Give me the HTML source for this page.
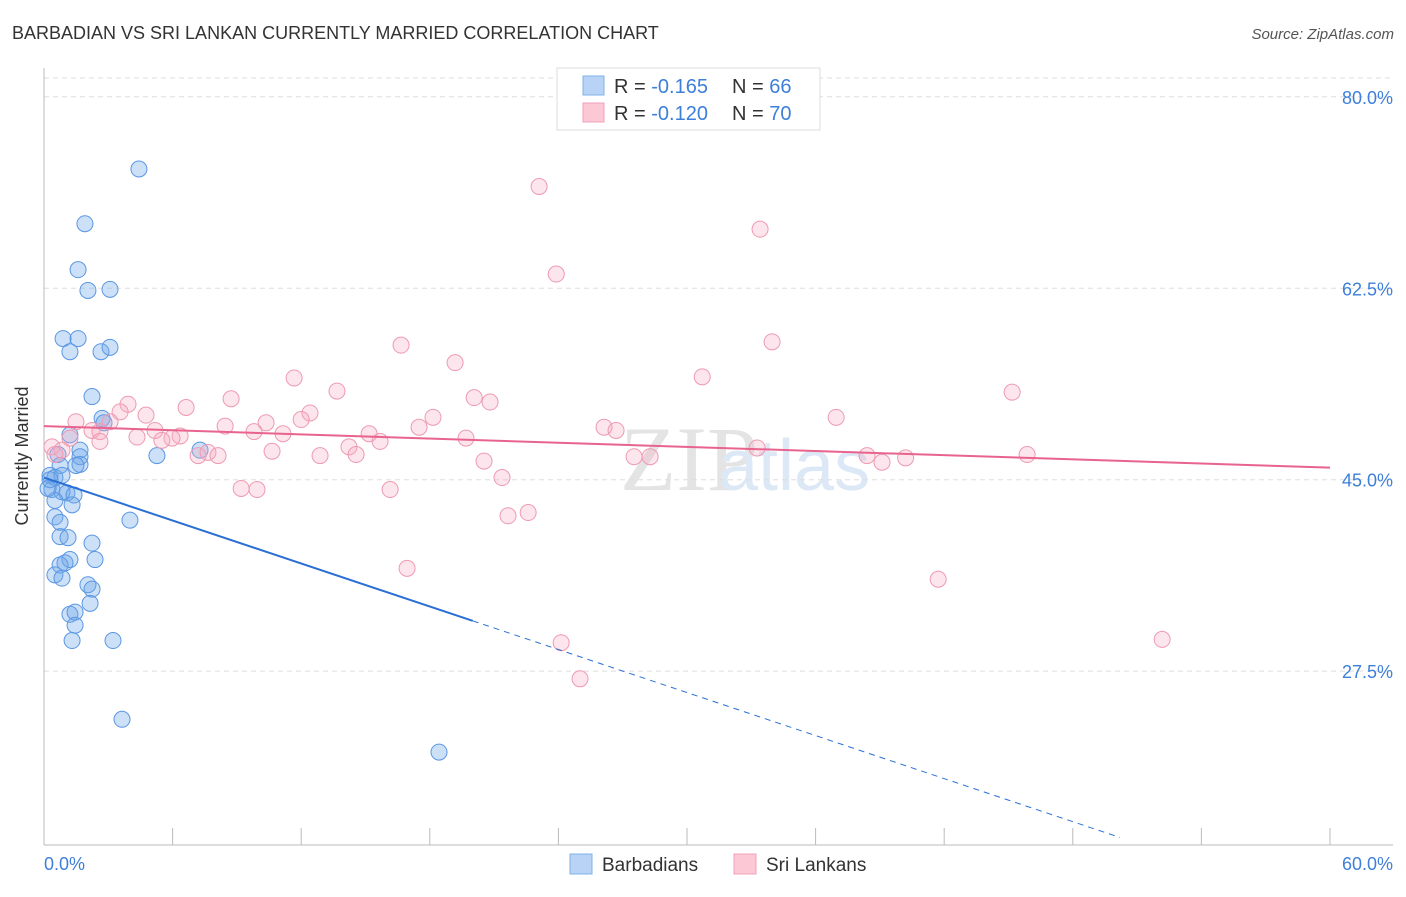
<!DOCTYPE html>
<html><head><meta charset="utf-8"><style>
body{margin:0;background:#fff;font-family:"Liberation Sans",sans-serif}
</style></head><body>
<svg id="c" width="1406" height="892" xmlns="http://www.w3.org/2000/svg">
<text x="12" y="39" font-size="18" fill="#333">BARBADIAN VS SRI LANKAN CURRENTLY MARRIED CORRELATION CHART</text>
<text x="1394" y="39" font-size="15" fill="#555" font-style="italic" text-anchor="end">Source: ZipAtlas.com</text>
<text x="620" y="490" font-size="92" fill="#e4e4e4" font-family="Liberation Serif,serif">ZIP</text>
<text x="718" y="490" font-size="72" fill="#dde8f6">atlas</text>
<g id="grid"></g>
<line x1="44" y1="68" x2="44" y2="845" stroke="#bbb"/>
<line x1="44" y1="845" x2="1393" y2="845" stroke="#bbb"/>
<g id="ticks"></g>
<text x="28" y="456" font-size="18" fill="#333" text-anchor="middle" transform="rotate(-90 28 456)">Currently Married</text>
<text x="44" y="870" font-size="18" fill="#3d7fd9">0.0%</text>
<text x="1393" y="870" font-size="18" fill="#3d7fd9" text-anchor="end">60.0%</text>
<g id="pts"></g>
<g id="trend"></g>
<g>
<rect x="557" y="68" width="263" height="62" fill="#fff" stroke="#ddd"/>
<rect x="583" y="76" width="21" height="19" fill="#b8d3f5" stroke="#7fb0ea"/>
<rect x="583" y="103" width="21" height="19" fill="#fcc8d6" stroke="#f0a0b8"/>
<text x="614" y="93" font-size="20" fill="#333">R = <tspan fill="#3d7fd9">-0.165</tspan><tspan x="732">N = </tspan><tspan fill="#3d7fd9">66</tspan></text>
<text x="614" y="120" font-size="20" fill="#333">R = <tspan fill="#3d7fd9">-0.120</tspan><tspan x="732">N = </tspan><tspan fill="#3d7fd9">70</tspan></text>
</g>
<g>
<rect x="570" y="854" width="22" height="20" fill="#b8d3f5" stroke="#7fb0ea"/>
<text x="602" y="871" font-size="19" fill="#333">Barbadians</text>
<rect x="734" y="854" width="22" height="20" fill="#fcc8d6" stroke="#f0a0b8"/>
<text x="766" y="871" font-size="19" fill="#333">Sri Lankans</text>
</g>
</svg>
<script>
const yTicks=[80,62.5,45,27.5];
const yTickLabels=["80.0%","62.5%","45.0%","27.5%"];
const blueX=[4.43,1.91,1.59,2.05,3.08,0.89,1.59,1.21,2.66,3.08,2.24,2.71,2.80,1.21,0.65,1.68,1.68,1.68,1.49,7.28,5.27,0.75,0.28,0.51,0.84,0.37,0.84,1.07,1.40,0.51,1.31,0.51,0.75,4.01,0.75,1.12,2.24,1.21,2.38,0.75,0.98,0.51,0.84,2.05,2.24,2.15,1.21,1.45,1.45,1.31,3.22,3.64,18.43,0.28,0.19];
const blueY=[73.4,68.4,64.2,62.3,62.4,57.9,57.9,56.7,56.7,57.1,52.6,50.6,50.2,49.1,47.3,47.7,47.1,46.4,46.3,47.7,47.2,46.3,45.4,45.2,45.4,44.1,43.9,43.8,43.6,43.1,42.7,41.6,41.1,41.3,39.8,39.7,39.2,37.7,37.7,37.2,37.4,36.3,36.0,35.4,35.0,33.7,32.7,32.9,31.7,30.3,30.3,23.1,20.1,45.0,44.2];
const pinkX=[23.1,33.41,23.9,16.66,33.97,19.18,11.67,30.71,13.67,45.17,3.92,8.73,6.63,20.07,20.81,3.55,4.76,18.15,36.96,12.41,12.0,1.49,3.08,10.36,8.45,17.5,26.13,26.69,5.18,9.80,11.15,2.24,2.61,4.34,6.35,5.97,5.5,15.17,15.68,19.69,1.21,2.61,0.37,0.84,0.51,10.64,14.23,14.56,7.19,7.65,8.12,12.88,27.53,28.28,33.27,38.4,39.1,40.2,45.87,20.53,21.37,9.2,9.94,16.15,21.65,22.59,16.94,41.72,24.13,52.17,25.01];
const pinkY=[71.8,67.9,63.8,57.3,57.6,55.7,54.3,54.4,53.1,53.0,51.9,52.4,51.6,52.5,52.1,51.2,50.9,50.7,50.7,51.1,50.5,50.3,50.3,50.2,49.9,49.8,49.8,49.5,49.5,49.4,49.2,49.5,49.4,48.9,49.0,48.8,48.6,49.2,48.5,48.8,48.8,48.5,48.0,47.7,47.3,47.6,48.0,47.3,47.2,47.5,47.2,47.2,47.1,47.1,47.9,47.2,46.6,47.0,47.3,46.7,45.2,44.2,44.1,44.1,41.7,42.0,36.9,35.9,30.1,30.4,26.8];
const blueTrend=[[0,45.2],[20,32.1],[50.2,12.3]];
const pinkTrend=[[0,49.9],[60,46.1]];
const NS="http://www.w3.org/2000/svg";
const X=v=>44+v*21.433, Y=v=>972-v*10.94;
function mk(p,t,a){const e=document.createElementNS(NS,t);for(const k in a)e.setAttribute(k,a[k]);document.getElementById(p).appendChild(e);return e;}
const g=mk('grid','line',{x1:44,x2:1393,y1:78,y2:78,stroke:'#ddd','stroke-dasharray':'5,4'});


yTicks.forEach((t,i)=>{
 const l=mk('grid','line',{x1:44,x2:1393,y1:Y(t),y2:Y(t),stroke:'#ddd','stroke-dasharray':'5,4'});
 
 
 const tx=mk('grid','text',{x:1393,y:Y(t)+7,'font-size':18,fill:'#3d7fd9','text-anchor':'end'});
 tx.textContent=yTickLabels[i];
 
 
});
for(let i=0;i<=10;i++){
 const l=mk('ticks','line',{x1:X(i*6),x2:X(i*6),y1:828,y2:845,stroke:'#bbb'});
 
 
}
blueX.forEach((x,i)=>{
 const c=mk('pts','circle',{cx:X(x),cy:Y(blueY[i]),r:8,fill:'rgba(110,165,232,0.35)',stroke:'#5b97e3','stroke-width':1});
 
 
});
pinkX.forEach((x,i)=>{
 const c=mk('pts','circle',{cx:X(x),cy:Y(pinkY[i]),r:8,fill:'rgba(244,170,192,0.3)',stroke:'#ee9ab2','stroke-width':1});
 
 
});
const b1=mk('trend','line',{x1:X(blueTrend[0][0]),y1:Y(blueTrend[0][1]),x2:X(blueTrend[1][0]),y2:Y(blueTrend[1][1]),stroke:'#2a6fd6','stroke-width':2});


const b2=mk('trend','line',{x1:X(blueTrend[1][0]),y1:Y(blueTrend[1][1]),x2:X(blueTrend[2][0]),y2:Y(blueTrend[2][1]),stroke:'#2a6fd6','stroke-width':1,'stroke-dasharray':'6,5'});


const p1=mk('trend','line',{x1:X(pinkTrend[0][0]),y1:Y(pinkTrend[0][1]),x2:X(pinkTrend[1][0]),y2:Y(pinkTrend[1][1]),stroke:'#e8638e','stroke-width':2});


</script>
</body></html>
